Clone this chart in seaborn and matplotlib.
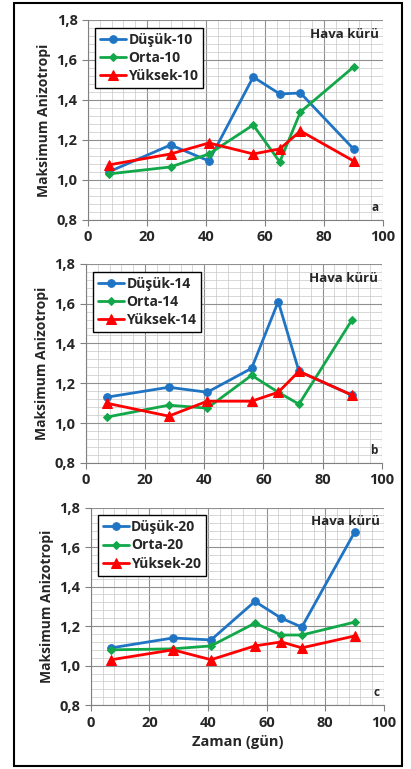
import numpy as np
import pandas as pd
import seaborn as sns
import matplotlib.pyplot as plt
from matplotlib.ticker import MultipleLocator, AutoMinorLocator, FuncFormatter
from matplotlib.patches import Rectangle

# data
gun = [7, 28, 41, 56, 65, 72, 90]

dusuk_10 = [1.04, 1.175, 1.095, 1.515, 1.43, 1.435, 1.155]
orta_10 = [1.03, 1.065, 1.13, 1.275, 1.09, 1.34, 1.565]
yuksek_10 = [1.075, 1.13, 1.185, 1.13, 1.155, 1.245, 1.095]

dusuk_14 = [1.13, 1.18, 1.155, 1.275, 1.61, 1.26, 1.14]
orta_14 = [1.03, 1.09, 1.075, 1.24, 1.155, 1.095, 1.52]
yuksek_14 = [1.10, 1.035, 1.11, 1.11, 1.155, 1.26, 1.14]

dusuk_20 = [1.09, 1.14, 1.13, 1.325, 1.24, 1.195, 1.675]
orta_20 = [1.08, 1.085, 1.10, 1.215, 1.155, 1.155, 1.22]
yuksek_20 = [1.03, 1.08, 1.03, 1.10, 1.12, 1.09, 1.15]

panels = [("10", dusuk_10, orta_10, yuksek_10, "a"),
          ("14", dusuk_14, orta_14, yuksek_14, "b"),
          ("20", dusuk_20, orta_20, yuksek_20, "c")]

sns.set_style("white")
plt.rcParams['font.family'] = ['Open Sans', 'DejaVu Sans']
plt.rcParams['font.weight'] = 'bold'

fig = plt.figure(figsize=(4.11, 7.69), dpi=100)
fig.patches.append(Rectangle((14/411, 3/769), 388/411, 763/769, transform=fig.transFigure,
                             fill=False, edgecolor='black', linewidth=1.5))

boxes = [[0.214, 0.714, 0.718, 0.260],
         [0.209, 0.398, 0.720, 0.259],
         [0.221, 0.083, 0.713, 0.257]]

colors = {'Düşük': '#1F74C4', 'Orta': '#12A84A', 'Yüksek': '#FF0000'}
marks = {'Düşük': ('o', 5.5), 'Orta': ('D', 4), 'Yüksek': ('^', 6.5)}

for box, (n, d, o, y, lab) in zip(boxes, panels):
    ax = fig.add_axes(box)
    for name, vals in [('Düşük', d), ('Orta', o), ('Yüksek', y)]:
        m, ms = marks[name]
        sns.lineplot(x=gun, y=vals, ax=ax, color=colors[name], marker=m, markersize=ms,
                     markeredgecolor=colors[name], linewidth=2, label=f"{name}-{n}")
    ax.set_xlim(0, 100)
    ax.set_ylim(0.8, 1.8)
    ax.xaxis.set_major_locator(MultipleLocator(20))
    ax.yaxis.set_major_locator(MultipleLocator(0.2))
    ax.xaxis.set_minor_locator(AutoMinorLocator(5))
    ax.yaxis.set_minor_locator(AutoMinorLocator(5))
    ax.yaxis.set_major_formatter(FuncFormatter(lambda v, p: f"{v:.1f}".replace('.', ',')))
    ax.grid(which='major', color='#909090', linewidth=0.8)
    ax.grid(which='minor', color='#c8c8c8', linewidth=0.5)
    ax.set_axisbelow(True)
    for s in ['top', 'right']:
        ax.spines[s].set_visible(False)
    for s in ['left', 'bottom']:
        ax.spines[s].set_color('#808080')
    ax.tick_params(axis='both', which='major', labelsize=10.5, length=4, color='#808080',
                   direction='out', left=True, bottom=True)
    for t in ax.get_xticklabels() + ax.get_yticklabels():
        t.set_fontweight('bold')
    ax.set_ylabel("Maksimum Anizotropi", fontsize=10, fontweight='bold')
    ax.text(0.985, 0.96, "Hava kürü", transform=ax.transAxes, ha='right', va='top',
            fontsize=9.5, fontweight='bold')
    ax.text(0.985, 0.03, lab, transform=ax.transAxes, ha='right', va='bottom', fontsize=8.5)
    leg = ax.legend(loc='upper left', bbox_to_anchor=(0.024, 0.96), borderaxespad=0,
                    fancybox=False, framealpha=1, edgecolor='black',
                    prop={'weight': 'bold', 'size': 10},
                    handlelength=1.9, handletextpad=0.15, borderpad=0.35, labelspacing=0.3)
    leg.get_frame().set_linewidth(1)
    if lab == 'c':
        ax.set_xlabel("Zaman (gün)", fontsize=10.5, fontweight='bold')

fig.savefig("out.png", dpi=100)
